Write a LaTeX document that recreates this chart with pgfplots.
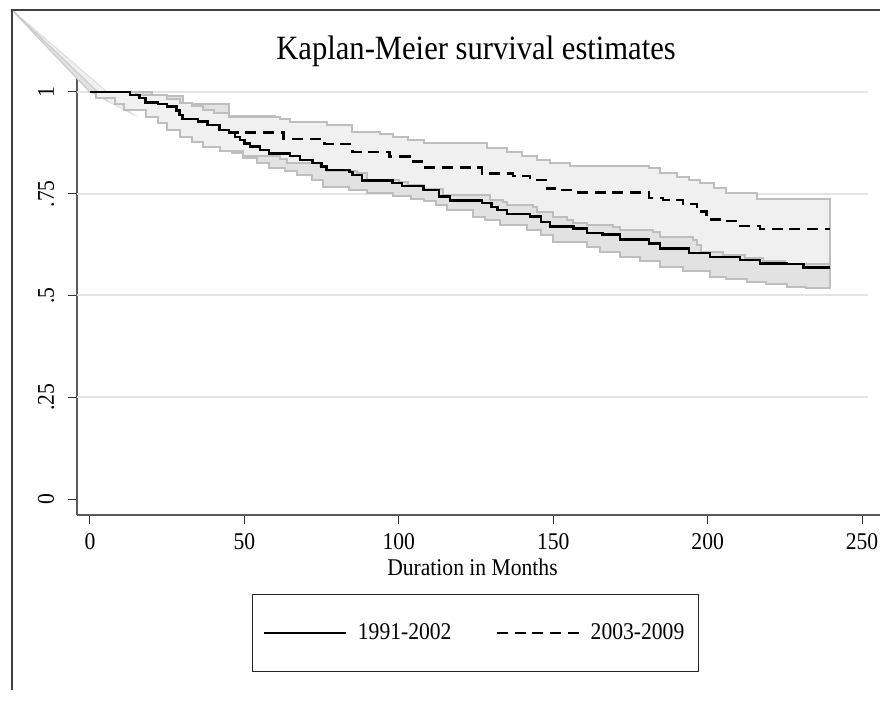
\documentclass[border=0pt]{standalone}
\usepackage{fontspec}
\setmainfont[FakeStretch=0.9]{Liberation Serif}
\usepackage{pgfplots}
\pgfplotsset{compat=1.18}
\definecolor{gridc}{HTML}{E4E4E4}
\definecolor{bandL}{HTML}{F0F0F0}
\definecolor{bandD}{HTML}{E2E2E2}
\definecolor{bandO}{HTML}{BEBEBE}
\definecolor{axc}{HTML}{5A5A5A}
\begin{document}
\begin{tikzpicture}
\begin{axis}[
  at={(0,0)}, anchor=south west,
  scale only axis, width=401.5pt, height=218.5pt,
  xmin=-4.2, xmax=255.8, ymin=-0.0393, ymax=1.0344,
  axis x line*=bottom, axis y line*=left,
  axis line style={axc, line width=1.3pt, -},
  xtick={0,50,100,150,200,250},
  ytick={0,0.25,0.5,0.75,1}, yticklabels={0,.25,.5,.75,1},
  tick align=outside, major tick length=4.5pt,
  tick style={black!80, line width=0.5pt},
  /pgf/number format/assume math mode=true,
  ticklabel style={font=\fontsize{12}{14}\selectfont, inner sep=0pt},
  xticklabel style={anchor=base, yshift=-13pt},
  yticklabel style={rotate=90, anchor=base, yshift=7pt},
  clip=false,
  title={Kaplan-Meier survival estimates},
  title style={at={(axis description cs:0.497,1)}, anchor=base, yshift=3pt, font=\fontsize{17}{20}\selectfont},
  xlabel={Duration in Months},
  xlabel style={at={(axis description cs:0.4925,0)}, anchor=base, yshift=-30.5pt, inner sep=0pt, font=\fontsize{12}{14}\selectfont},
  legend columns=2,
  legend image code/.code={\draw[#1] (0pt,0pt) -- (41pt,0pt); \path[draw=none] (0pt,0pt) -- (45pt,0pt);},
  legend style={at={(axis description cs:0.218,-0.1808)}, anchor=north west,
    draw=black!85, line width=0.6pt, fill=white, inner xsep=5pt, inner ysep=12.5pt,
    font=\fontsize{12}{14}\selectfont,
    /tikz/every even column/.append style={column sep=20pt}},
]
% grid lines
\addplot[gridc, line width=1pt, forget plot] coordinates {(-4.2,0.25)(252,0.25)};
\addplot[gridc, line width=1pt, forget plot] coordinates {(-4.2,0.5)(252,0.5)};
\addplot[gridc, line width=1pt, forget plot] coordinates {(-4.2,0.75)(252,0.75)};
\addplot[gridc, line width=1pt, forget plot] coordinates {(-4.2,1)(252,1)};
% stray wedge
\addplot[fill=bandL, draw=black!12, line width=0.6pt, forget plot] coordinates {(-25.26,1.2015)(0,1)(14,0.945)} -- cycle;
\addplot[fill=bandD, draw=black!20, line width=0.6pt, forget plot] coordinates {(-25.26,1.2015)(0,1)(5,0.982)} -- cycle;
% CI band 1991-2002
\addplot[const plot, fill=bandD, draw=bandO, line width=1pt, forget plot] coordinates {
(0,1)(20,0.99)(30,0.97)(45,0.94)(60,0.90)(75,0.875)(90,0.84)(110,0.82)(130,0.79)(150,0.74)(170,0.71)(190,0.67)(210,0.64)(239.5,0.64)
(239.5,0.519)(232,0.522)(225.7,0.528)(219,0.534)(212.7,0.540)(206,0.546)(200.8,0.560)(192,0.571)(184.6,0.585)(178,0.595)(171.6,0.608)(165,0.620)(161,0.632)(150,0.648)(146,0.661)(141.5,0.673)(132.8,0.685)(128,0.694)(124,0.710)(115.6,0.722)(112,0.733)(108,0.738)(104,0.745)(98,0.752)(89.6,0.760)(84,0.767)(75.5,0.785)(72,0.797)(67,0.805)(63,0.813)(58,0.825)(54,0.838)(49.6,0.850)(46,0.862)(42,0.875)(37,0.89)(33,0.905)(29,0.925)(25,0.945)(20,0.96)(15,0.975)(10,0.99)(5,1)(0,1)
} -- cycle;
% CI band 2003-2009
\addplot[const plot, fill=bandL, draw=bandO, line width=1pt, forget plot] coordinates {
(0,1)(15,0.993)(25,0.984)(29,0.974)(33,0.965)(36.6,0.956)(40,0.948)(45,0.939)(61.5,0.933)(64.8,0.927)(76.7,0.919)(85,0.902)(94,0.898)(98,0.890)(103,0.882)(108,0.874)(128.5,0.862)(135,0.853)(140,0.843)(144.7,0.833)(149,0.825)(155.4,0.817)(181,0.813)(184.6,0.802)(190,0.792)(194,0.784)(197.5,0.776)(202,0.763)(206,0.751)(216,0.736)(239.5,0.736)
(239.5,0.578)(225,0.585)(218,0.592)(212,0.600)(205,0.608)(198,0.624)(196.5,0.636)(195.3,0.644)(184.6,0.657)(182.3,0.661)(171.6,0.669)(169.4,0.673)(160.9,0.678)(156.5,0.686)(154.4,0.694)(150,0.706)(144.7,0.718)(143.5,0.722)(135,0.730)(133.8,0.735)(129.5,0.747)(114.3,0.762)(108,0.772)(103,0.780)(100,0.784)(89.7,0.800)(86.4,0.806)(76.7,0.817)(74.5,0.825)(63.8,0.835)(61.5,0.843)(49.6,0.855)(42,0.865)(36.6,0.876)(33,0.890)(29,0.907)(25,0.925)(22,0.939)(18,0.956)(11,0.970)(8,0.985)(2,1)(0,1)
} -- cycle;
% survival curves
\addplot[const plot, black, line width=1.25pt] coordinates {
(0,1)(12,1)(13,0.993)(16,0.985)(18,0.974)(22,0.970)(25,0.964)(28,0.955)(29,0.943)(30,0.934)(35,0.927)(38,0.919)(42,0.907)(45,0.900)(47,0.890)(48.6,0.882)(50,0.874)(51.8,0.866)(55,0.857)(58,0.849)(64.8,0.843)(68,0.833)(72,0.826)(75,0.817)(76.6,0.808)(84,0.804)(85,0.796)(88,0.782)(98,0.777)(101,0.769)(108,0.759)(113,0.743)(116.6,0.733)(127,0.727)(130,0.718)(132,0.710)(135,0.700)(142.5,0.694)(146,0.680)(149,0.669)(156.5,0.665)(161,0.654)(166,0.650)(171.6,0.638)(181,0.628)(184.6,0.616)(194,0.604)(200.8,0.595)(210.5,0.587)(217,0.579)(225.7,0.577)(231,0.569)(239.5,0.569)
};
\addlegendentry{1991-2002}
\addplot[const plot, black, line width=1.25pt, dash pattern=on 5.5pt off 3.4pt] coordinates {
(0,1)(12,1)(13,0.993)(16,0.985)(18,0.974)(22,0.970)(25,0.964)(28,0.955)(29,0.943)(30,0.934)(35,0.927)(38,0.919)(42,0.907)(45,0.901)(62.6,0.884)(76,0.872)(85,0.853)(97,0.841)(103.6,0.829)(108,0.815)(127,0.800)(137,0.794)(142.5,0.784)(148,0.763)(151,0.759)(156.5,0.753)(181,0.739)(185.6,0.735)(192,0.725)(196.5,0.706)(199.7,0.687)(206,0.683)(210.5,0.671)(217,0.663)(239.5,0.663)
};
\addlegendentry{2003-2009}
% outer frame lines
\draw[black!75, line width=0.8pt] (axis cs:-25.26,-0.469) -- (axis cs:-25.26,1.2015) -- (axis cs:256,1.2015);
\end{axis}
\pgfresetboundingbox
\path[use as bounding box] (-38.5pt,-93pt) rectangle (401.5pt,257.5pt);
\end{tikzpicture}
\end{document}
